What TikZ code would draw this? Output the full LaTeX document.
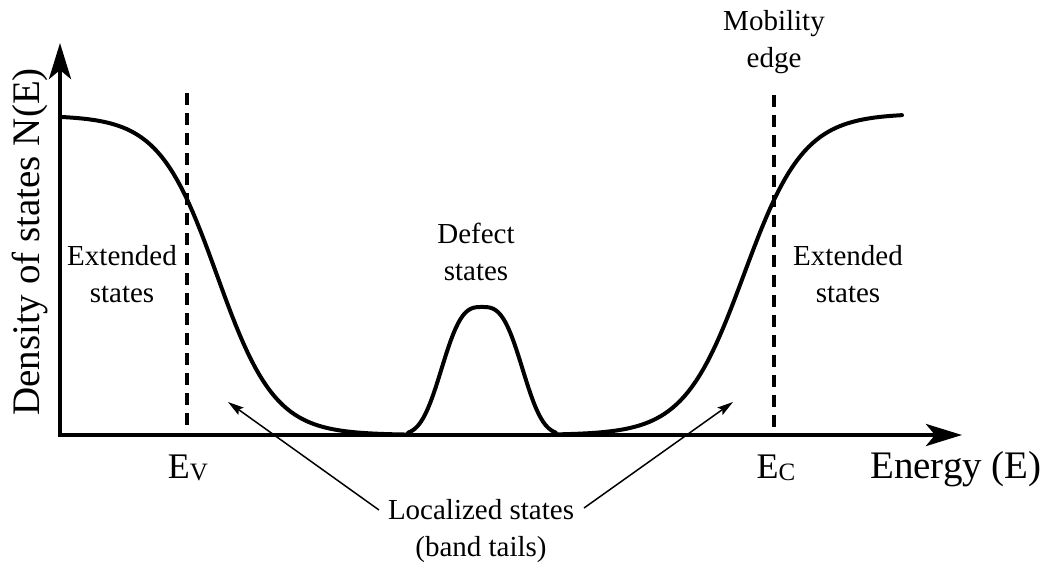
\documentclass[tikz,border=0pt]{standalone}
\usepackage{fontspec}
\setmainfont{Liberation Serif}
\usetikzlibrary{arrows.meta}
\begin{document}
\begin{tikzpicture}[x=1pt,y=-1pt,
  axis/.style={line width=4.5pt, line join=miter,
    {Stealth[length=36pt,width=22pt,inset=9pt]}-{Stealth[length=36pt,width=22pt,inset=9pt]}},
  dos/.style={line width=4pt, line join=round, line cap=round},
  edgeline/.style={line width=3.5pt, dash pattern=on 12pt off 8pt},
  pointer/.style={line width=1.5pt, -{Stealth[length=16pt,width=9pt,inset=3pt]}},
  lbl/.style={font=\rmfamily\fontsize{29}{37}\selectfont, align=center, inner sep=0pt},
  big/.style={font=\rmfamily\fontsize{39}{44}\selectfont, inner sep=0pt},
  sym/.style={font=\rmfamily\fontsize{36}{40}\selectfont, inner sep=0pt}]
\useasboundingbox (0,0) rectangle (1045,566);

% axes
\coordinate (O) at (60,435);
\coordinate (ytip) at (60,43);
\coordinate (xtip) at (962,435);
\draw[axis] (ytip) |- (xtip);

% mobility edges
\coordinate (evtop) at (187,93);
\coordinate (evbot) at (187,435);
\coordinate (ectop) at (774,95);
\coordinate (ecbot) at (774,435);
\draw[edgeline] (evtop) -- (evbot);
\draw[edgeline] (ectop) -- (ecbot);

% density of states curve
\draw[dos]
  plot[domain=60:408,samples=90] (\x,{435-319.5/(1+exp((\x-217)/29))})
  -- plot[domain=408:556,samples=60] (\x,{435-128*exp(-pow(abs(\x-482.01)/46.5,3))})
  -- plot[domain=556:902,samples=90] (\x,{435-321.5/(1+exp(-(\x-744)/30))});

% labels
\node[big,rotate=90] (ylab) at (30,242) {Density of states N(E)};
\node[big,anchor=base] (xlab) at (956,478) {Energy (E)};
\node[sym,anchor=base] (ev) at (188,478) {E\raisebox{-2pt}{\fontsize{25}{25}\selectfont V}};
\node[sym,anchor=base] (ec) at (776,478) {E\raisebox{-2pt}{\fontsize{25}{25}\selectfont C}};
\node[lbl] (extl) at (122,274) {Extended\\states};
\node[lbl] (extr) at (848,274) {Extended\\states};
\node[lbl] (defect) at (476,252) {Defect\\states};
\node[lbl] (mob) at (774,42) {Mobility\\edge};
\node[lbl] (loc) at (481,531) {Localized states\\(band tails)};

% pointers
\coordinate (ltail) at (379,510);
\coordinate (ltip) at (228,402);
\coordinate (rtail) at (584,508);
\coordinate (rtip) at (733,402);
\draw[pointer] (ltail) -- (ltip);
\draw[pointer] (rtail) -- (rtip);
\end{tikzpicture}
\end{document}
